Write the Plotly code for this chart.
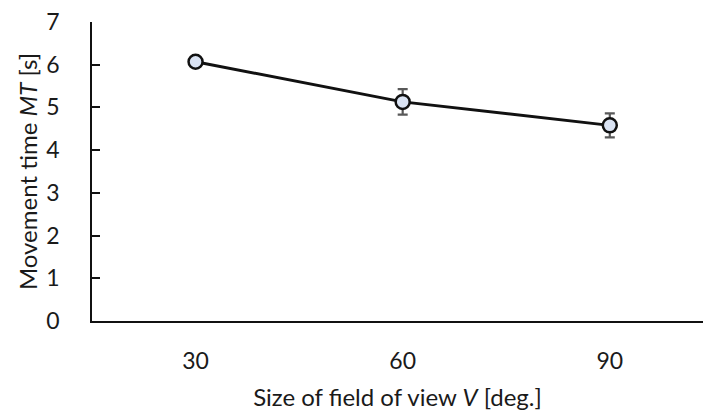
import plotly.graph_objects as go

categories = ["30", "60", "90"]
mt_values = [6.07, 5.13, 4.58]
mt_errors = [0.05, 0.30, 0.28]
y_ticks = [0, 1, 2, 3, 4, 5, 6, 7]

FONT = "Lato, 'Open Sans', sans-serif"
TXT = "#1a1a1a"

fig = go.Figure()
fig.add_trace(go.Scatter(
    x=categories, y=mt_values,
    mode="lines+markers",
    line=dict(color="#111111", width=3),
    marker=dict(size=14, color="#dae3f3", line=dict(color="#111111", width=2.5)),
    error_y=dict(type="data", array=mt_errors, color="#595959", thickness=2.2, width=5),
    showlegend=False,
))

fig.update_layout(
    width=703, height=420,
    margin=dict(l=92, r=0, t=22, b=99),
    paper_bgcolor="white", plot_bgcolor="white",
    font=dict(family=FONT, size=23, color=TXT),
    xaxis=dict(
        type="category",
        range=[-0.5, 2.45],
        showline=True, linecolor="#111111", linewidth=1.5,
        ticks="", showgrid=False, zeroline=False,
        ticklabelstandoff=19,
        tickfont=dict(size=23, color=TXT),
        title=dict(text="Size of field of view <i>V</i> [deg.]", standoff=16,
                   font=dict(size=24, color=TXT)),
    ),
    yaxis=dict(
        range=[0, 7],
        tickvals=y_ticks,
        showline=True, linecolor="#111111", linewidth=1.5,
        ticks="inside", ticklen=8, tickcolor="#111111", tickwidth=1.5,
        showgrid=False, zeroline=False,
        ticklabelstandoff=26,
        tickfont=dict(size=23, color=TXT),
        title=dict(text="Movement time <i>MT</i> [s]", standoff=2,
                   font=dict(size=24, color=TXT)),
    ),
)

fig.write_html("out.html")
